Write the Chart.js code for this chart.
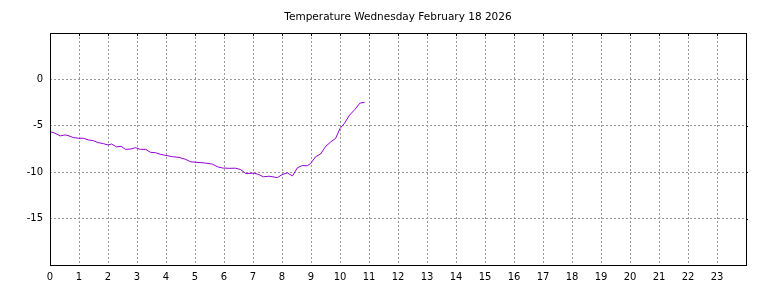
<!DOCTYPE html>
<html>
<head>
<meta charset="utf-8">
<script src="https://cdn.jsdelivr.net/npm/chart.js@4/dist/chart.umd.min.js"></script>
<style>
  html, body { margin: 0; padding: 0; background: #fff; }
  #wrap { width: 768px; height: 288px; }
</style>
</head>
<body>
<div id="wrap"><canvas id="chart" width="768" height="288"></canvas></div>
<script>
// Temperature readings, hour of day vs degrees
const hours = [0, 0.17, 0.35, 0.52, 0.69, 0.8, 0.98, 1.15, 1.32, 1.49, 1.66, 1.84, 2.0, 2.12, 2.3, 2.45,
  2.6, 2.79, 2.95, 3.12, 3.3, 3.47, 3.64, 3.82, 3.99, 4.22, 4.45, 4.68, 4.85, 5.14, 5.37, 5.6,
  5.78, 5.95, 6.18, 6.4, 6.57, 6.75, 7.03, 7.2, 7.36, 7.55, 7.84, 8.01, 8.18, 8.36, 8.53, 8.7,
  8.87, 8.99, 9.16, 9.33, 9.51, 9.68, 9.85, 10.0, 10.16, 10.33, 10.51, 10.68, 10.85];
const temps = [-5.62, -5.8, -6.09, -5.98, -6.12, -6.27, -6.34, -6.34, -6.52, -6.6, -6.81, -6.92, -7.07, -6.96, -7.28, -7.21,
  -7.54, -7.5, -7.36, -7.54, -7.54, -7.86, -7.9, -8.08, -8.19, -8.33, -8.4, -8.62, -8.88, -8.95, -9.02, -9.13,
  -9.42, -9.55, -9.58, -9.57, -9.71, -10.14, -10.1, -10.25, -10.5, -10.43, -10.58, -10.25, -10.07, -10.4, -9.53, -9.28,
  -9.31, -9.06, -8.33, -8.04, -7.21, -6.74, -6.34, -5.29, -4.71, -3.84, -3.26, -2.57, -2.46];
const xTicks = [0,1,2,3,4,5,6,7,8,9,10,11,12,13,14,15,16,17,18,19,20,21,22,23];
const yTicks = [0, -5, -10, -15];
const title = 'Temperature Wednesday February 18 2026';

const points = hours.map((h, i) => ({ x: h, y: temps[i] }));

// frame, small tick marks and the title centred over the plot area
const framePlugin = {
  id: 'frame',
  afterDraw(chart) {
    const ctx = chart.ctx;
    const a = chart.chartArea;
    const xs = chart.scales.x, ys = chart.scales.y;
    ctx.save();
    ctx.strokeStyle = '#000';
    ctx.lineWidth = 1;
    ctx.setLineDash([]);
    ctx.strokeRect(Math.round(a.left) + 0.5, Math.round(a.top) + 0.5,
      Math.round(a.right - a.left), Math.round(a.bottom - a.top));
    ctx.beginPath();
    xTicks.forEach(v => {
      const px = Math.round(xs.getPixelForValue(v)) + 0.5;
      ctx.moveTo(px, a.top); ctx.lineTo(px, a.top + 3);
    });
    yTicks.forEach(v => {
      const py = Math.round(ys.getPixelForValue(v)) + 0.5;
      ctx.moveTo(a.right, py); ctx.lineTo(a.right + 2, py);
    });
    ctx.stroke();

    ctx.fillStyle = '#000';
    ctx.font = '10.5px "DejaVu Sans"';
    ctx.textAlign = 'center';
    ctx.textBaseline = 'alphabetic';
    ctx.fillText(title, (a.left + a.right) / 2, 20);
    ctx.restore();
  }
};

const gridStyle = {
  color: '#999999',
  lineWidth: 1,
  drawTicks: false
};

new Chart(document.getElementById('chart').getContext('2d'), {
  type: 'line',
  data: {
    datasets: [{
      data: points,
      borderColor: '#9400d3',
      borderWidth: 1,
      pointRadius: 0,
      tension: 0,
      fill: false
    }]
  },
  options: {
    responsive: false,
    animation: false,
    layout: { padding: { left: 0, right: 22, top: 33, bottom: 0 } },
    plugins: {
      legend: { display: false },
      tooltip: { enabled: false },
      title: { display: false }
    },
    scales: {
      x: {
        type: 'linear',
        min: 0,
        max: 24,
        afterBuildTicks: s => { s.ticks = xTicks.map(v => ({ value: v })); },
        afterFit: s => { s.height = 23; },
        grid: Object.assign({}, gridStyle),
        border: { display: false, dash: [2, 2] },
        ticks: {
          color: '#000',
          padding: 6,
          maxRotation: 0,
          autoSkip: false,
          font: { family: 'DejaVu Sans', size: 10 }
        }
      },
      y: {
        type: 'linear',
        min: -20,
        max: 5,
        afterBuildTicks: s => { s.ticks = yTicks.map(v => ({ value: v })); },
        afterFit: s => { s.width = 50; },
        grid: Object.assign({}, gridStyle),
        border: { display: false, dash: [2, 2] },
        ticks: {
          color: '#000',
          padding: 7,
          font: { family: 'DejaVu Sans', size: 10 }
        }
      }
    }
  },
  plugins: [framePlugin]
});
</script>
</body>
</html>
